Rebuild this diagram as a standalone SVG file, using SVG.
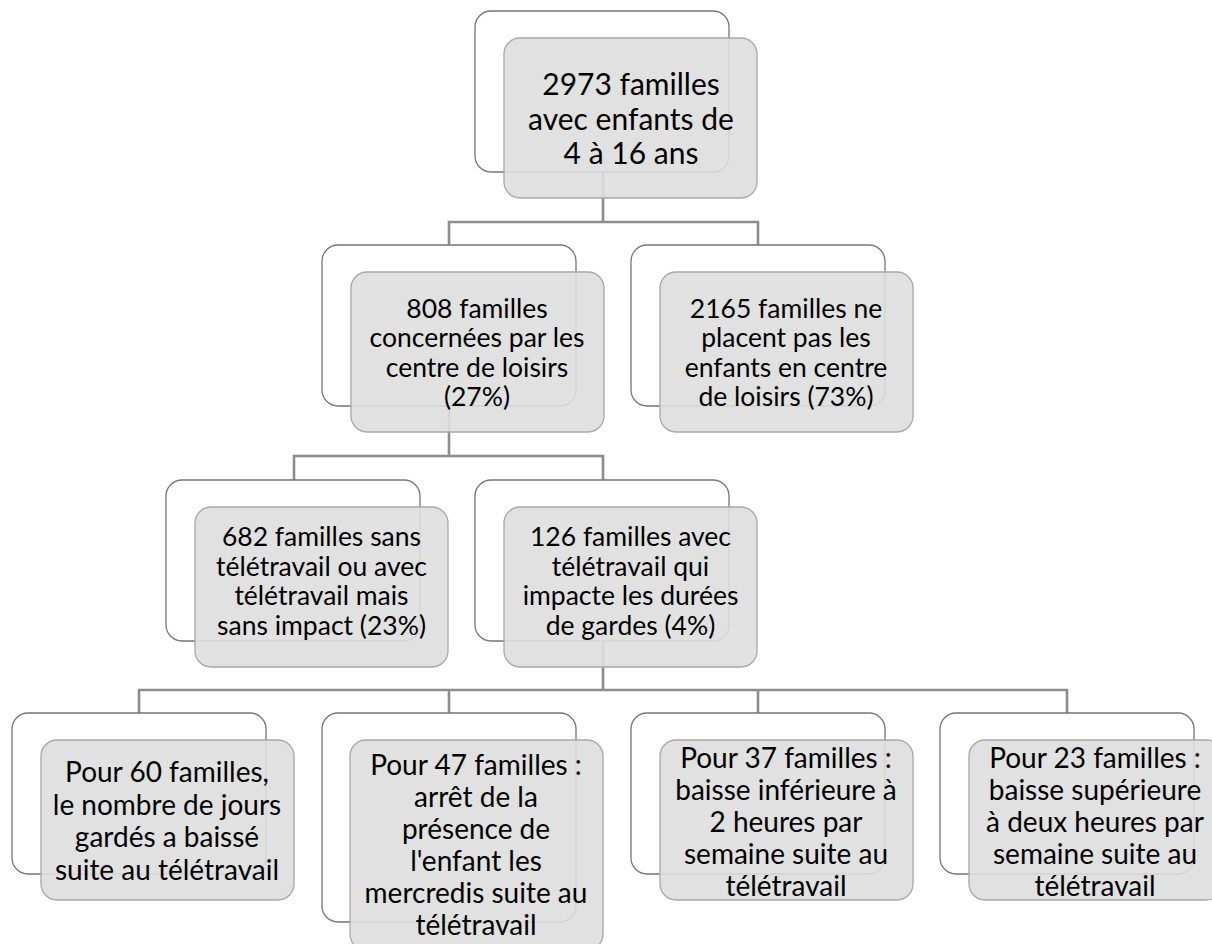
<svg xmlns="http://www.w3.org/2000/svg" width="1212" height="944" viewBox="0 0 1212 944">
<style>
.bg{fill:#ffffff;stroke:#767676;stroke-width:1.3}
.fg{fill:#dedede;fill-opacity:0.9;stroke:#a8a8a8;stroke-width:1.3}
.conn{fill:none;stroke:#8c8c8c;stroke-width:2.6}
text{font-family:Lato,"Liberation Sans",sans-serif;fill:#000;text-anchor:middle}
.t0{font-size:30px}
.t1{font-size:26.5px}
.t2{font-size:28px}
</style>
<rect width="1212" height="944" fill="#ffffff"/>
<g id="connectors">
<path class="conn" d="M603,172 V222 H449 V245 M603,222 H758 V245"/>
<path class="conn" d="M449,406 V456 H294 V480 M449,456 H603 V480"/>
<path class="conn" d="M603,641 V690 H139 V713 M603,690 H1067 V713 M449,690 V713 M758,690 V713"/>
</g>
<g id="n0">
<rect class="bg" x="475" y="11" width="254" height="161" rx="16"/>
<rect class="fg" x="504" y="38" width="253" height="160" rx="16"/>
<text class="t0" x="631" y="95">2973 familles</text>
<text class="t0" x="631" y="129.5">avec enfants de</text>
<text class="t0" x="631" y="164">4 à 16 ans</text>
</g>
<g id="n1">
<rect class="bg" x="322" y="245" width="254" height="161" rx="16"/>
<rect class="fg" x="351" y="272" width="253" height="160" rx="16"/>
<text class="t1" x="477" y="317.5">808 familles</text>
<text class="t1" x="477" y="347">concernées par les</text>
<text class="t1" x="477" y="376.5">centre de loisirs</text>
<text class="t1" x="477" y="406">(27%)</text>
</g>
<g id="n2">
<rect class="bg" x="631" y="245" width="254" height="161" rx="16"/>
<rect class="fg" x="660" y="272" width="253" height="160" rx="16"/>
<text class="t1" x="786" y="317.5">2165 familles ne</text>
<text class="t1" x="786" y="347">placent pas les</text>
<text class="t1" x="786" y="376.5">enfants en centre</text>
<text class="t1" x="786" y="406">de loisirs (73%)</text>
</g>
<g id="n3">
<rect class="bg" x="166" y="480" width="254" height="161" rx="16"/>
<rect class="fg" x="195" y="507" width="253" height="160" rx="16"/>
<text class="t1" x="321.5" y="546">682 familles sans</text>
<text class="t1" x="321.5" y="575.5">télétravail ou avec</text>
<text class="t1" x="321.5" y="605">télétravail mais</text>
<text class="t1" x="321.5" y="634.5">sans impact (23%)</text>
</g>
<g id="n4">
<rect class="bg" x="475" y="480" width="254" height="161" rx="16"/>
<rect class="fg" x="504" y="507" width="253" height="160" rx="16"/>
<text class="t1" x="630.5" y="546">126 familles avec</text>
<text class="t1" x="630.5" y="575.5">télétravail qui</text>
<text class="t1" x="630.5" y="605">impacte les durées</text>
<text class="t1" x="630.5" y="634.5">de gardes (4%)</text>
</g>
<g id="n5">
<rect class="bg" x="12" y="713" width="254" height="161" rx="16"/>
<rect class="fg" x="41" y="740" width="253" height="160" rx="16"/>
<text class="t2" x="167" y="782">Pour 60 familles,</text>
<text class="t2" x="167" y="814.5">le nombre de jours</text>
<text class="t2" x="167" y="847">gardés a baissé</text>
<text class="t2" x="167" y="879.5">suite au télétravail</text>
</g>
<g id="n6">
<rect class="bg" x="322" y="713" width="254" height="209" rx="16"/>
<rect class="fg" x="350" y="740" width="253" height="210" rx="16"/>
<text class="t2" x="476" y="775">Pour 47 familles :</text>
<text class="t2" x="476" y="807">arrêt de la</text>
<text class="t2" x="476" y="839">présence de</text>
<text class="t2" x="476" y="871">l'enfant les</text>
<text class="t2" x="476" y="903">mercredis suite au</text>
<text class="t2" x="476" y="935">télétravail</text>
</g>
<g id="n7">
<rect class="bg" x="631" y="713" width="254" height="161" rx="16"/>
<rect class="fg" x="660" y="740" width="253" height="160" rx="16"/>
<text class="t2" x="786" y="768">Pour 37 familles :</text>
<text class="t2" x="786" y="800">baisse inférieure à</text>
<text class="t2" x="786" y="832">2 heures par</text>
<text class="t2" x="786" y="864">semaine suite au</text>
<text class="t2" x="786" y="896">télétravail</text>
</g>
<g id="n8">
<rect class="bg" x="940" y="713" width="254" height="161" rx="16"/>
<rect class="fg" x="969" y="740" width="253" height="160" rx="16"/>
<text class="t2" x="1095" y="768">Pour 23 familles :</text>
<text class="t2" x="1095" y="800">baisse supérieure</text>
<text class="t2" x="1095" y="832">à deux heures par</text>
<text class="t2" x="1095" y="864">semaine suite au</text>
<text class="t2" x="1095" y="896">télétravail</text>
</g>
</svg>
